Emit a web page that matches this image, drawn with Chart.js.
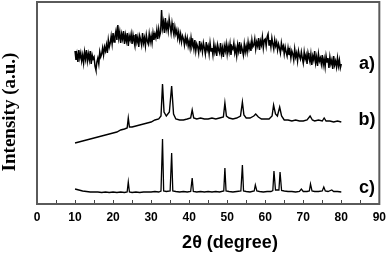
<!DOCTYPE html>
<html>
<head>
<meta charset="utf-8">
<script src="https://cdn.jsdelivr.net/npm/chart.js@4.4.1/dist/chart.umd.min.js"></script>
<style>
  html, body { margin: 0; padding: 0; background: #fff; }
  #wrap { width: 392px; height: 255px; }
</style>
</head>
<body>
<div id="wrap"><canvas id="xrdChart" width="392" height="255"></canvas></div>
<script>
// sample a) - amorphous, 10..80 step 0.25 (stacked heights, arbitrary units)
var aStart = 10, aStep = 0.25;
var aValues = [
  153, 144, 150, 142, 154, 146, 151, 143, 149, 141, 152, 145, 154, 143, 150, 144, 153, 140, 149, 145,
  147, 138, 134, 142, 146, 140, 152, 147, 150, 156, 149, 157, 153, 159, 151, 164, 157, 161, 168, 160,
  171, 162, 168, 173, 164, 179, 166, 172, 161, 170, 165, 173, 160, 169, 163, 171, 158, 168, 164, 170,
  160, 169, 163, 158, 170, 162, 167, 157, 168, 164, 159, 171, 161, 166, 158, 169, 163, 160, 170, 162,
  168, 161, 171, 164, 170, 166, 174, 165, 175, 168, 172, 194, 176, 182, 171, 186, 175, 180, 173, 185,
  178, 171, 181, 174, 169, 177, 170, 174, 166, 172, 164, 170, 162, 168, 165, 159, 167, 161, 166, 158,
  163, 156, 166, 158, 162, 155, 164, 153, 160, 157, 151, 163, 155, 159, 152, 161, 156, 150, 162, 154,
  158, 150, 161, 153, 156, 149, 160, 152, 157, 148, 159, 154, 151, 161, 150, 156, 147, 158, 153, 160,
  150, 158, 152, 160, 149, 157, 155, 161, 151, 156, 148, 159, 153, 162, 150, 158, 154, 149, 160, 152,
  158, 152, 162, 155, 160, 153, 164, 157, 159, 165, 155, 162, 158, 166, 154, 163, 159, 167, 156, 164,
  165, 158, 167, 170, 159, 164, 157, 166, 160, 155, 164, 158, 162, 154, 160, 156, 151, 161, 155, 158,
  150, 157, 152, 148, 156, 149, 154, 146, 153, 150, 144, 155, 147, 151, 143, 153, 148, 145, 152, 146,
  141, 152, 145, 149, 140, 151, 146, 142, 150, 139, 148, 144, 153, 141, 147, 138, 150, 143, 146, 140,
  149, 139, 145, 137, 148, 142, 146, 136, 147, 140, 144, 135, 148, 139, 143, 137, 146, 138, 144, 136,
  140
];

// sample b)
var bAngles = [10, 11, 12, 13, 14, 15, 16, 17, 18, 19, 20, 21, 22, 23, 23.7, 24.0, 24.3, 25, 26, 27, 28, 29, 30, 31, 32,
  32.6, 33.0, 33.4, 34, 34.8, 35.4, 35.9, 36.5, 37.5, 38.5, 39.5, 40.4, 40.8, 41.2, 42, 43, 44, 45, 46, 47, 48, 49,
  49.4, 49.8, 50.5, 51.5, 52.5, 53.5, 54.0, 54.4, 55, 56, 57, 57.5, 58.2, 59, 60, 61, 61.8, 62.2, 62.7, 63.2, 63.8, 64.3,
  65, 66, 67, 68, 69, 70, 71, 71.8, 72.4, 73, 74, 75, 75.5, 76, 77, 78, 79, 80];
var bValues = [61, 62, 63, 64, 65, 66, 67, 68, 69, 70, 71, 72, 74, 75, 76, 86, 77, 77, 78, 79, 80, 81, 82, 84, 85,
  88, 120, 92, 88, 92, 118, 90, 85, 84, 84, 85, 86, 94, 86, 85, 86, 85, 85, 86, 85, 86, 87,
  101, 88, 86, 85, 86, 88, 102, 89, 86, 86, 88, 90, 87, 85, 85, 85, 88, 99, 90, 88, 97, 88,
  84, 84, 83, 84, 83, 83, 84, 88, 84, 83, 84, 83, 86, 83, 83, 82, 83, 82];

// sample c)
var cAngles = [10, 10.5, 11, 12, 13, 14, 15, 16, 17, 18, 19, 20, 21, 22, 23, 23.7, 24.0, 24.3, 25, 26, 27, 28, 29, 30, 31, 32,
  32.6, 33.0, 33.3, 34, 35.0, 35.4, 35.7, 36.5, 37.5, 38.5, 39.5, 40.4, 40.8, 41.1, 42, 43, 44, 45, 46, 47, 48,
  49.1, 49.4, 49.7, 50.5, 51.5, 52.5, 53.6, 54.0, 54.3, 55, 56, 57.1, 57.4, 57.8, 58.5, 59.5, 60.5, 61.5,
  62.0, 62.3, 62.7, 63.6, 63.9, 64.3, 65, 66, 67, 68, 69, 69.5, 70, 71, 71.6, 71.9, 72.3, 73, 74, 75, 75.4, 75.8,
  76.5, 77.5, 78, 79, 80];
var cValues = [15, 14.5, 14, 13, 12.5, 12, 12, 12, 11.5, 12, 11.5, 12, 11.5, 12, 11.5, 12, 22, 12, 11.5, 12, 11.5, 12, 12, 12, 12.5, 12,
  13, 65, 13, 12.5, 13, 51, 13, 12.5, 12, 12.5, 12, 12.5, 26, 12.5, 12, 12.5, 12, 12.5, 12, 12.5, 12,
  13, 36, 13, 12.5, 12, 12.5, 13, 39, 13, 12.5, 12, 13, 19, 13, 12.5, 12, 12.5, 12.5,
  13.5, 33, 14, 14, 32, 13.5, 13, 12.5, 12.5, 12, 12.5, 15, 12.5, 12.5, 13, 20, 13, 12.5, 12.5, 13, 17, 13,
  12.5, 14, 12.5, 12.5, 12];

var sampleLabels = ['a)', 'b)', 'c)'];
var labelLevels = [140, 84, 16];

function pairs(xs, ys) {
  return ys.map(function (y, i) { return { x: xs[i], y: y }; });
}
var aAngles = aValues.map(function (v, i) { return aStart + i * aStep; });

var framePlugin = {
  id: 'frame',
  afterDraw: function (chart) {
    var c = chart.ctx, area = chart.chartArea, xs = chart.scales.x, ys = chart.scales.y;
    c.save();
    // inward ticks
    c.strokeStyle = '#444';
    c.lineWidth = 1;
    for (var v = 5; v < 90; v += 5) {
      var px = Math.round(xs.getPixelForValue(v)) + 0.5;
      c.beginPath();
      c.moveTo(px, area.bottom);
      c.lineTo(px, area.bottom - 4);
      c.stroke();
    }
    c.strokeStyle = '#5a5a5a';
    c.lineWidth = 2;
    c.strokeRect(area.left, area.top, area.right - area.left, area.bottom - area.top);

    // sample labels
    c.fillStyle = '#000';
    c.font = 'bold 18px "Liberation Sans", Arial, sans-serif';
    c.textAlign = 'center';
    c.textBaseline = 'middle';
    sampleLabels.forEach(function (t, i) {
      c.fillText(t, 367, ys.getPixelForValue(labelLevels[i]));
    });

    // axis titles
    c.font = 'bold 18px "Liberation Sans", Arial, sans-serif';
    c.fillText('2\u03b8 (degree)', 230, 243);
    c.translate(10, 112);
    c.rotate(-Math.PI / 2);
    c.font = 'bold 19px "Liberation Serif", "Times New Roman", serif';
    c.fillText('Intensity (a.u.)', 0, 0);
    c.restore();
  }
};

var ctx = document.getElementById('xrdChart').getContext('2d');
var xrdChart = new Chart(ctx, {
  type: 'line',
  data: {
    datasets: [
      { label: 'a', data: pairs(aAngles, aValues), borderColor: '#000', borderWidth: 1.5, pointRadius: 0, tension: 0 },
      { label: 'b', data: pairs(bAngles, bValues), borderColor: '#000', borderWidth: 1.4, pointRadius: 0, tension: 0 },
      { label: 'c', data: pairs(cAngles, cValues), borderColor: '#000', borderWidth: 1.3, pointRadius: 0, tension: 0 }
    ]
  },
  options: {
    responsive: false,
    animation: false,
    layout: { padding: { left: 37, right: 8, top: 2, bottom: 0 } },
    plugins: { legend: { display: false }, tooltip: { enabled: false } },
    scales: {
      x: {
        type: 'linear',
        min: 0,
        max: 90,
        grid: { display: false, drawTicks: false },
        border: { display: false },
        ticks: {
          stepSize: 10,
          padding: 6,
          color: '#000',
          maxRotation: 0,
          font: { family: '"Liberation Sans", Arial, sans-serif', size: 12, weight: 'bold' }
        },
        afterFit: function (scale) { scale.height = 51; }
      },
      y: {
        display: false,
        min: 0,
        max: 202
      }
    }
  },
  plugins: [framePlugin]
});
</script>
</body>
</html>
